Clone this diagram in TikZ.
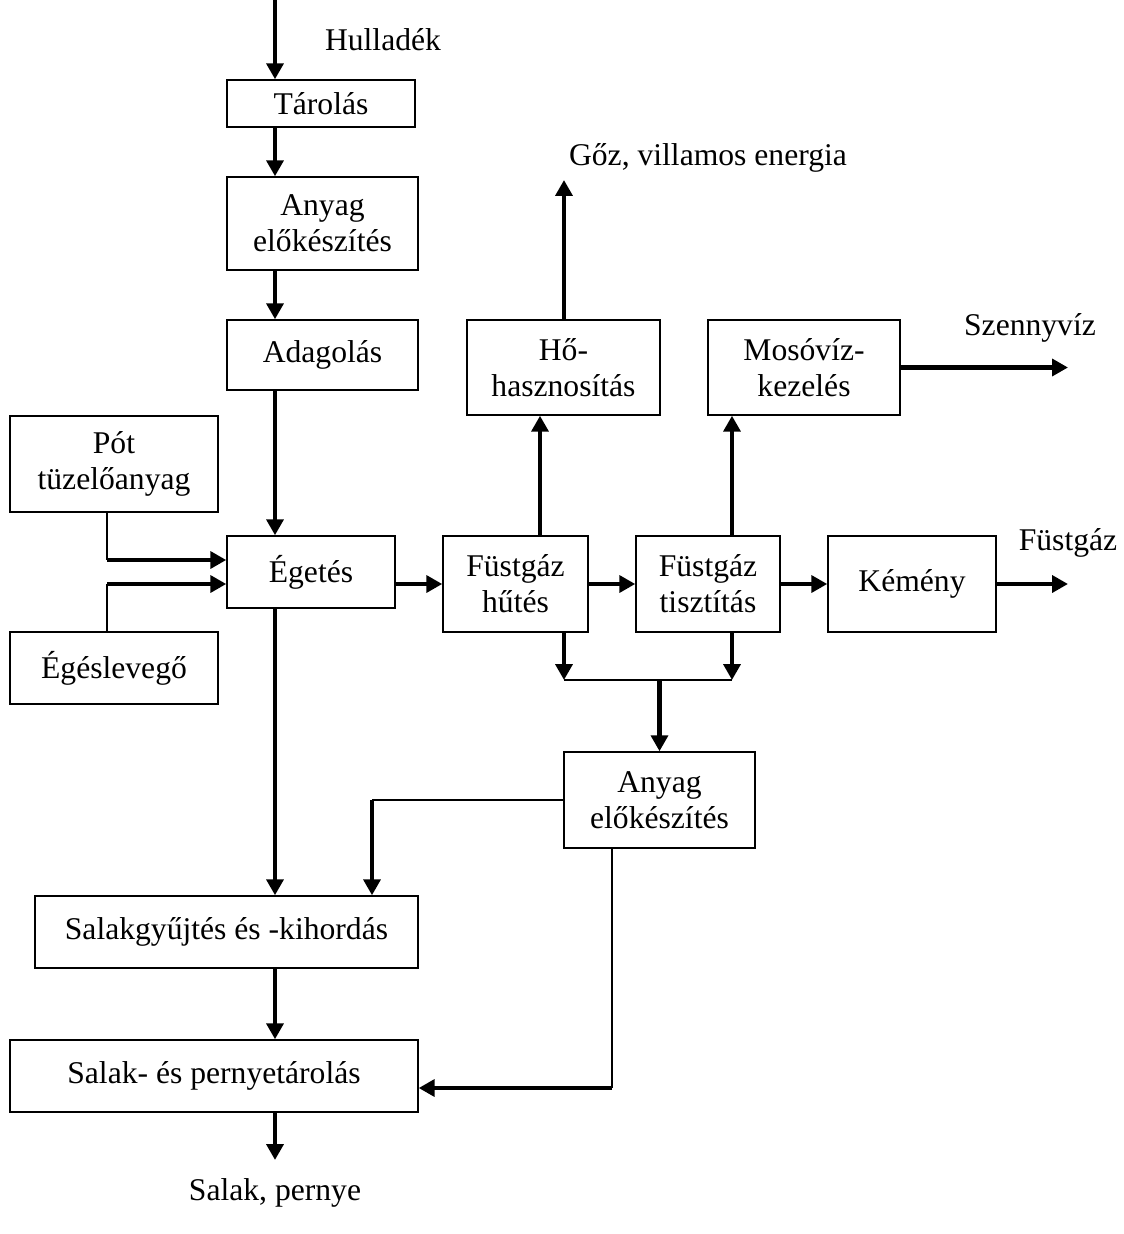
\documentclass[tikz,border=0pt]{standalone}
\usepackage{fontspec}
\setmainfont{Liberation Serif}
\usetikzlibrary{arrows.meta}
\begin{document}
\begin{tikzpicture}[x=0.02cm,y=-0.02cm,
    every node/.style={font=\fontsize{18}{20.5}\selectfont},
    box/.style={draw,line width=0.85pt,align=center,inner sep=0pt},
    arr/.style={line width=2.3pt,-{Triangle[length=9pt,width=9.5pt]}},
    ln/.style={line width=0.85pt}]
  \useasboundingbox (0,0) rectangle (1124,1234);
  % boxes
  \node[box,minimum width=3.76cm,minimum height=0.94cm] (tarolas) at (321,103.5) {Tárolás};
  \node[box,minimum width=3.82cm,minimum height=1.86cm] (anyag1) at (322.5,223.5) {Anyag\\előkészítés};
  \node[box,minimum width=3.82cm,minimum height=1.4cm] (adagolas) at (322.5,355) {Adagolás};
  \node[box,minimum width=4.16cm,minimum height=1.92cm] (pot) at (114,464) {Pót\\tüzelőanyag};
  \node[box,minimum width=3.36cm,minimum height=1.44cm] (egetes) at (311,572) {Égetés};
  \node[box,minimum width=4.16cm,minimum height=1.44cm] (egeslev) at (114,668) {Égéslevegő};
  \node[box,minimum width=2.9cm,minimum height=1.92cm] (hutes) at (515.5,584) {Füstgáz\\hűtés};
  \node[box,minimum width=2.88cm,minimum height=1.92cm] (tisztitas) at (708,584) {Füstgáz\\tisztítás};
  \node[box,minimum width=3.36cm,minimum height=1.92cm] (kemeny) at (912,584) {Kémény};
  \node[box,minimum width=3.86cm,minimum height=1.9cm] (hohasz) at (563.5,367.5) {Hő-\\hasznosítás};
  \node[box,minimum width=3.84cm,minimum height=1.9cm] (moso) at (804,367.5) {Mosóvíz-\\kezelés};
  \node[box,minimum width=3.82cm,minimum height=1.92cm] (anyag2) at (659.5,800) {Anyag\\előkészítés};
  \node[box,minimum width=7.66cm,minimum height=1.44cm] (salakgy) at (226.5,932) {Salakgyűjtés és -kihordás};
  \node[box,minimum width=8.16cm,minimum height=1.44cm] (salakt) at (214,1076) {Salak- és pernyetárolás};
  % free labels
  \node (hulladek) at (383,40) {Hulladék};
  \node (goz) at (708,158) {Gőz, villamos energia};
  \node (szennyviz) at (1030,328) {Szennyvíz};
  \node (fustgaz) at (1068,543) {Füstgáz};
  \node (salak) at (275,1193) {Salak, pernye};
  % helper points
  \coordinate (be) at (275,0);
  \coordinate (potke) at (107,560);
  \coordinate (levke) at (107,584);
  \coordinate (xh) at (540,0);
  \coordinate (gozki) at (564,180);
  \coordinate (xm) at (732,0);
  \coordinate (szvki) at (1068,367.5);
  \coordinate (fgki) at (1068,584);
  \coordinate (gyl) at (564,680);
  \coordinate (gyr) at (732,680);
  \coordinate (xs) at (372,0);
  \coordinate (sarok) at (612,1088);
  \coordinate (kiki) at (275,1160);
  % main line
  \draw[arr] (be) -- (be |- tarolas.north);
  \draw[arr] (be |- tarolas.south) -- (be |- anyag1.north);
  \draw[arr] (be |- anyag1.south) -- (be |- adagolas.north);
  \draw[arr] (be |- adagolas.south) -- (be |- egetes.north);
  \draw[ln] (potke |- pot.south) -- (potke);
  \draw[arr] (potke) -- (potke -| egetes.west);
  \draw[ln] (levke |- egeslev.north) -- (levke);
  \draw[arr] (levke) -- (levke -| egetes.west);
  \draw[arr] (egetes.east |- hutes.west) -- (hutes.west);
  \draw[arr] (hutes.east) -- (tisztitas.west);
  \draw[arr] (tisztitas.east) -- (kemeny.west);
  \draw[arr] (kemeny.east) -- (fgki);
  % upward branches
  \draw[arr] (xh |- hutes.north) -- (xh |- hohasz.south);
  \draw[arr] (gozki |- hohasz.north) -- (gozki);
  \draw[arr] (xm |- tisztitas.north) -- (xm |- moso.south);
  \draw[arr] (moso.east) -- (szvki);
  % residues
  \draw[arr] (gyl |- hutes.south) -- (gyl);
  \draw[arr] (gyr |- tisztitas.south) -- (gyr);
  \draw[ln] (gyl) -- (gyr);
  \draw[arr] (anyag2.north |- gyl) -- (anyag2.north);
  \draw[ln] (anyag2.west) -- (xs |- anyag2.west);
  \draw[arr] (xs |- anyag2.west) -- (xs |- salakgy.north);
  \draw[arr] (be |- egetes.south) -- (be |- salakgy.north);
  \draw[ln] (sarok |- anyag2.south) -- (sarok);
  \draw[arr] (sarok) -- (sarok -| salakt.east);
  \draw[arr] (be |- salakgy.south) -- (be |- salakt.north);
  \draw[arr] (be |- salakt.south) -- (kiki);
\end{tikzpicture}
\end{document}
